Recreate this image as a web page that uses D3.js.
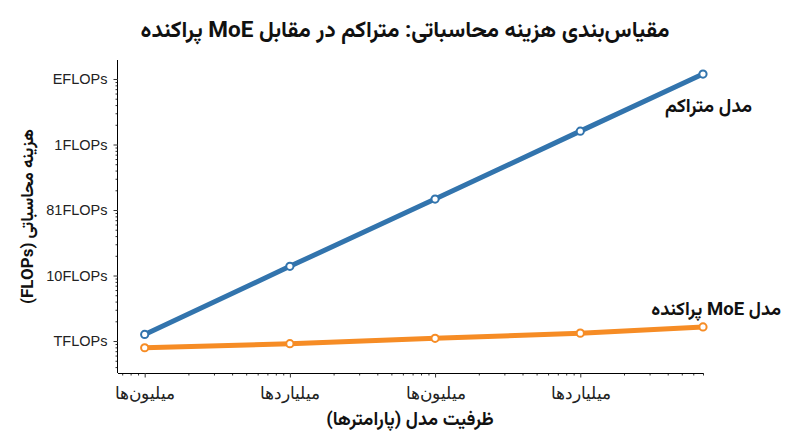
<!DOCTYPE html>
<html>
<head>
<meta charset="utf-8">
<script src="https://cdn.jsdelivr.net/npm/d3@7"></script>
<style>
  body { margin: 0; background: #fff; }
  svg { font-family: Roboto, Vazirmatn, "Noto Sans Arabic", "Noto Naskh Arabic", "DejaVu Sans", sans-serif; }
  .rtl { direction: rtl; unicode-bidi: embed; }
</style>
</head>
<body>
<svg id="chart" width="800" height="447"></svg>
<script>
// داده‌ها
const params = [1e6, 1e7, 1e8, 1e9, 7e9];
const denseCost = [1.26e12, 1.38e13, 1.47e14, 1.6e15, 1.19e16];
const moeCost = [7.9e11, 9.1e11, 1.1e12, 1.32e12, 1.64e12];

const xTickValues = [1e6, 1e7, 1e8, 1e9];
const xTickLabels = ["میلیون‌ها", "میلیاردها", "میلیون‌ها", "میلیاردها"];
const yTickValues = [1e12, 1e13, 1e14, 1e15, 1e16];
const yTickLabels = ["TFLOPs", "10FLOPs", "81FLOPs", "1FLOPs", "EFLOPs"];

const seriesNames = ["مدل متراکم", "مدل MoE پراکنده"];
const title = "مقیاس‌بندی هزینه محاسباتی: متراکم در مقابل MoE پراکنده";
const xTitle = "ظرفیت مدل (پارامترها)";
const yTitle = "هزینه محاسباتی (FLOPs)";

const svg = d3.select("#chart");
const mLeft = 118, mRight = 703, mTop = 60, mBottom = 373;

const x = d3.scaleLog().domain([6.55e5, 7e9]).range([mLeft, mRight]);
const y = d3.scaleLog().domain([3.25e11, 1.95e16]).range([mBottom, mTop]);

// تیک‌های فرعی لگاریتمی
function minorTicks(scale) {
  const [d0, d1] = scale.domain();
  const out = [];
  for (let e = Math.floor(Math.log10(d0)); e <= Math.ceil(Math.log10(d1)); e++) {
    for (let m = 2; m <= 9; m++) {
      const v = m * Math.pow(10, e);
      if (v >= d0 && v <= d1) out.push(v);
    }
  }
  return out;
}

// محور x
const xAxis = svg.append("g").attr("transform", `translate(0,${mBottom})`);
xAxis.call(d3.axisBottom(x).tickValues(minorTicks(x)).tickSize(2.5).tickFormat(""));
xAxis.call(g => g.select(".domain").remove());
const xMajor = svg.append("g").attr("transform", `translate(0,${mBottom})`)
  .call(d3.axisBottom(x).tickValues(xTickValues).tickSize(4.5).tickPadding(9)
    .tickFormat((d, i) => xTickLabels[i]));
xMajor.select(".domain").attr("d", `M${mLeft},0.5H${mRight}`).attr("stroke", "#000");
xMajor.selectAll("text").attr("font-size", 17).attr("fill", "#222").attr("class", "rtl");

// محور y
const yAxis = svg.append("g").attr("transform", `translate(${mLeft},0)`);
yAxis.call(d3.axisLeft(y).tickValues(minorTicks(y)).tickSize(2.5).tickFormat(""));
yAxis.call(g => g.select(".domain").remove());
const yMajor = svg.append("g").attr("transform", `translate(${mLeft},0)`)
  .call(d3.axisLeft(y).tickValues(yTickValues).tickSize(4.5).tickPadding(6)
    .tickFormat((d, i) => yTickLabels[i]));
yMajor.select(".domain").attr("d", `M-0.5,${mTop}V${mBottom}`).attr("stroke", "#000");
yMajor.selectAll("text").attr("font-size", 14.5).attr("fill", "#222");

svg.selectAll(".tick line").attr("stroke", "#333");

// خطوط
const colors = ["#3274ad", "#f68c25"];
const line = d3.line().x((d, i) => x(params[i])).y(d => y(d));
[denseCost, moeCost].forEach((vals, k) => {
  svg.append("path")
    .attr("d", line(vals))
    .attr("fill", "none")
    .attr("stroke", colors[k])
    .attr("stroke-width", 5)
    .attr("stroke-linejoin", "round");
  svg.append("g").selectAll("circle").data(vals).join("circle")
    .attr("cx", (d, i) => x(params[i]))
    .attr("cy", d => y(d))
    .attr("r", 3.6)
    .attr("fill", "#fff")
    .attr("stroke", colors[k])
    .attr("stroke-width", 2);
});

// برچسب سری‌ها
svg.append("text").attr("class", "rtl")
  .attr("x", 752).attr("y", y(denseCost[4]) + 38)
  .attr("text-anchor", "start")
  .attr("font-size", 19).attr("font-weight", "bold").attr("fill", "#111")
  .text(seriesNames[0]);
svg.append("text").attr("class", "rtl")
  .attr("x", 781).attr("y", y(moeCost[4]) - 12)
  .attr("text-anchor", "start")
  .attr("font-size", 18.5).attr("font-weight", "bold").attr("fill", "#111")
  .text(seriesNames[1]);

// عنوان‌ها
svg.append("text").attr("class", "rtl")
  .attr("x", 405).attr("y", 37)
  .attr("text-anchor", "middle")
  .attr("font-size", 22.5).attr("font-weight", "bold").attr("fill", "#111")
  .text(title);

svg.append("text").attr("class", "rtl")
  .attr("x", 410).attr("y", 425)
  .attr("text-anchor", "middle")
  .attr("font-size", 18.5).attr("font-weight", "bold").attr("fill", "#111")
  .text(xTitle);

svg.append("text").attr("class", "rtl")
  .attr("transform", `translate(33,${(mTop + mBottom) / 2}) rotate(-90)`)
  .attr("text-anchor", "middle")
  .attr("font-size", 17).attr("font-weight", "bold").attr("fill", "#111")
  .text(yTitle);
</script>
</body>
</html>
